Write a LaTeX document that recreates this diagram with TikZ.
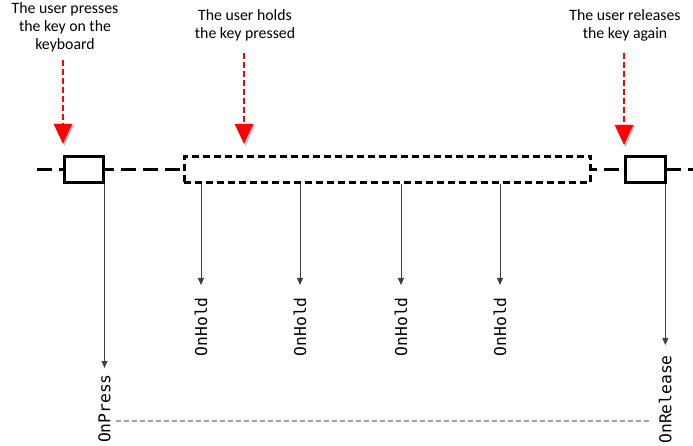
\documentclass[tikz,border=0pt]{standalone}
\usepackage{fontspec}
\setmainfont{Carlito}
\newfontfamily\codefont{DejaVu Sans Mono}
\usetikzlibrary{arrows.meta}
\definecolor{conncol}{HTML}{404040}
\definecolor{redcol}{HTML}{FF0000}
\definecolor{guide}{HTML}{A6A6A6}
\begin{document}
\begin{tikzpicture}[x=1pt,y=-1pt,
  heading/.style={align=center,inner sep=0pt,anchor=north,font=\fontsize{15.8}{18.3}\selectfont},
  keybox/.style={draw=black,line width=3pt,fill=white,minimum height=26pt,inner sep=0pt},
  holdbox/.style={keybox,dash pattern=on 7pt off 4pt},
  timeline/.style={line width=3pt,dash pattern=on 15pt off 7pt},
  redarrow/.style={draw=redcol,line width=2.5pt,dash pattern=on 6pt off 3pt,-{Triangle[width=18pt,length=20pt,fill=redcol]}},
  headshadow/.style={fill=black,opacity=0.25},
  conn/.style={draw=conncol,line width=1pt,-{Triangle[width=6pt,length=7pt]}},
  evlabel/.style={rotate=90,anchor=east,inner sep=0pt,font=\codefont\fontsize{16.3}{18}\selectfont},
  guideline/.style={draw=guide,line width=1.2pt,dash pattern=on 5pt off 3pt}]
\useasboundingbox (0,0) rectangle (693,446);

% timeline segments
\draw[timeline] (37,169.2) -- (64,169.2);
\draw[timeline,dash phase=5pt] (104,169.2) -- (184,169.2);
\draw[timeline,dash phase=9pt] (591,169.2) -- (625,169.2);
\draw[timeline] (666,169.2) -- (693,169.2);

% boxes
\node[keybox,minimum width=39pt] (b1) at (83.7,169.2) {};
\node[holdbox,minimum width=406.8pt] (hb) at (387.4,169.2) {};
\node[keybox,minimum width=40pt] (b2) at (645.2,169.2) {};

% headings
\node[heading] (t1) at (65,2) {The user presses\\the key on the\\keyboard};
\node[heading] (t2) at (245,9) {The user holds\\the key pressed};
\node[heading] (t3) at (625,9) {The user releases\\the key again};

% red arrows
\coordinate (r1) at (63,60);
\coordinate (r2) at (244,53);
\coordinate (r3) at (624,53);
\coordinate (r1e) at (63,144);
\coordinate (r2e) at (244,144);
\coordinate (r3e) at (624,145);
\foreach \c in {r1e,r2e,r3e}{
  \fill[headshadow,shift={(\c)}] (-8,-19) -- (11,-19) -- (1.5,2) -- cycle;
}
\draw[redarrow] (r1) -- (r1e);
\draw[redarrow] (r2) -- (r2e);
\draw[redarrow] (r3) -- (r3e);

% event labels
\node[evlabel] (press) at (104.5,374) {OnPress};
\node[evlabel] (h1) at (201,297) {OnHold};
\node[evlabel] (h2) at (300,297) {OnHold};
\node[evlabel] (h3) at (401,297) {OnHold};
\node[evlabel] (h4) at (500,297) {OnHold};
\node[evlabel] (rel) at (665.3,355) {OnRelease};

% connectors
\draw[conn,shorten >=6pt] (press.east |- b1.south) -- (press.east);
\draw[conn,shorten >=12pt] (h1.east |- hb.south) -- (h1.east);
\draw[conn,shorten >=12pt] (h2.east |- hb.south) -- (h2.east);
\draw[conn,shorten >=12pt] (h3.east |- hb.south) -- (h3.east);
\draw[conn,shorten >=12pt] (h4.east |- hb.south) -- (h4.east);
\draw[conn,shorten >=10pt] (rel.east |- b2.south) -- (rel.east);

% guide line
\coordinate (g1) at (116,421);
\coordinate (g2) at (650,421);
\draw[guideline] (g1) -- (g2);
\end{tikzpicture}
\end{document}
